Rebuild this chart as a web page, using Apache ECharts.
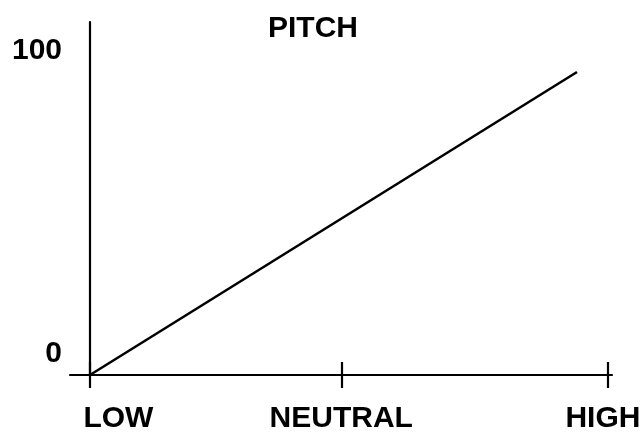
<!DOCTYPE html>
<html>
<head>
<meta charset="utf-8">
<script src="https://cdn.jsdelivr.net/npm/echarts@6/dist/echarts.min.js"></script>
<style>
  html, body { margin: 0; padding: 0; background: #fff; }
  #chart { width: 644px; height: 443px; }
</style>
</head>
<body>
<div id="chart"></div>
<script>
// Pitch scale: LOW -> NEUTRAL -> HIGH along x, 0..100 along y
const categories = ['LOW', 'NEUTRAL', 'HIGH'];
const categoryPositions = [0, 0.97, 2];
const categoryLabelPositions = [0.11, 0.97, 1.98];
const yTickLabels = [0, 100];
const pitchLine = [[0, 0], [1.88, 100]];

const FONT = '"Liberation Sans", Arial, Helvetica, sans-serif';
const axisStyle = { color: '#000', width: 2.2 };

const chart = echarts.init(document.getElementById('chart'), null, { renderer: 'canvas' });

function nameAt(v) {
  const i = categoryLabelPositions.findIndex(p => Math.abs(p - v) < 1e-6);
  return i >= 0 ? categories[i] : '';
}

chart.setOption({
  animation: false,
  backgroundColor: '#fff',
  title: {
    text: 'PITCH',
    left: 308,
    top: 9,
    textAlign: 'center',
    textStyle: { fontFamily: FONT, fontWeight: 'bold', fontSize: 30, color: '#000' }
  },
  grid: { left: 70, right: 32, top: 22, bottom: 68 },
  xAxis: [
    {
      type: 'value',
      min: -0.077,
      max: 2.015,
      axisLine: { show: true, onZero: false, lineStyle: axisStyle },
      axisTick: { show: true, customValues: categoryPositions, length: 13, lineStyle: axisStyle },
      splitLine: { show: false },
      axisLabel: {
        show: true,
        customValues: categoryLabelPositions,
        formatter: nameAt,
        margin: 29,
        fontFamily: FONT, fontWeight: 'bold', fontSize: 30, color: '#000'
      }
    },
    {
      type: 'value',
      position: 'bottom',
      min: -0.077,
      max: 2.015,
      axisLine: { show: false },
      axisTick: { show: true, inside: true, customValues: categoryPositions, length: 13, lineStyle: axisStyle },
      splitLine: { show: false },
      axisLabel: { show: false }
    }
  ],
  yAxis: {
    type: 'value',
    min: 0,
    max: 116.5,
    axisLine: { show: true, onZero: true, lineStyle: axisStyle },
    axisTick: { show: false },
    splitLine: { show: false },
    axisLabel: {
      show: true,
      customValues: yTickLabels,
      margin: 8,
      verticalAlign: 'bottom',
      padding: [0, 0, 6, 0],
      fontFamily: FONT, fontWeight: 'bold', fontSize: 30, color: '#000'
    }
  },
  series: [{
    type: 'line',
    data: pitchLine,
    showSymbol: false,
    lineStyle: { color: '#000', width: 2.6 },
    silent: true
  }]
});
</script>
</body>
</html>
